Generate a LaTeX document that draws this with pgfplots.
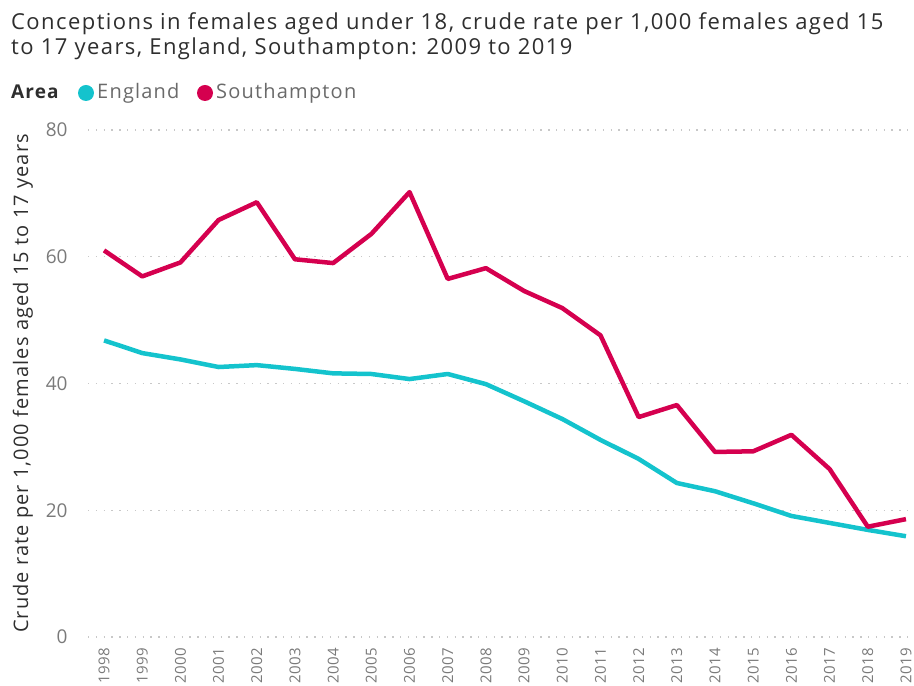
\documentclass[border=0pt]{standalone}
\usepackage{fontspec}
\setmainfont{Open Sans}
\usepackage{pgfplots}
\pgfplotsset{compat=1.18}
\definecolor{eng}{HTML}{14C3CD}
\definecolor{sot}{HTML}{D5004F}
\definecolor{titlec}{HTML}{2E2E2E}
\definecolor{legc}{HTML}{6A6A6A}
\definecolor{tickc}{HTML}{7A7A7A}
\definecolor{gridc}{HTML}{C8C8C8}
\begin{document}
\begin{tikzpicture}
\path[use as bounding box] (0,0) rectangle (914bp,686bp);
\begin{axis}[
  at={(88bp,49bp)}, anchor=south west,
  scale only axis, width=825.6bp, height=507bp,
  xmin=-0.42, xmax=21.2, ymin=0, ymax=80,
  axis line style={draw=none},
  ytick={0,20,40,60,80},
  xtick={0,...,21},
  xticklabels={1998,1999,2000,2001,2002,2003,2004,2005,2006,2007,2008,2009,2010,2011,2012,2013,2014,2015,2016,2017,2018,2019},
  x tick label style={rotate=90, anchor=east, font=\fontsize{15bp}{16bp}\selectfont\addfontfeature{LetterSpace=3}, text=tickc},
  xticklabel shift=7bp,
  y tick label style={font=\fontsize{19bp}{20bp}\selectfont, text=tickc, xshift=-17bp},
  /pgf/number format/assume math mode=true,
  major tick length=0pt,
  ymajorgrids, grid style={draw=gridc, line width=1.3bp, dash pattern=on 1.3bp off 6.5bp},
  ylabel={Crude rate per 1,000 females aged 15 to 17 years},
  every axis y label/.style={at={(ticklabel cs:0.5)}, rotate=90, anchor=south, yshift=6bp,
    font=\fontsize{20bp}{21bp}\selectfont\addfontfeature{LetterSpace=5.5}, text=titlec},
  clip=false,
]
\addplot[color=eng, line width=4.5bp, line join=round] coordinates {
(0,46.8)(1,44.8)(2,43.8)(3,42.6)(4,42.9)(5,42.3)(6,41.6)(7,41.5)(8,40.7)(9,41.5)(10,39.9)(11,37.2)(12,34.4)(13,31.1)(14,28.1)(15,24.3)(16,23.0)(17,21.1)(18,19.1)(19,18.0)(20,16.9)(21,15.9)};
\addplot[color=sot, line width=4.5bp, line join=round] coordinates {
(0,61.0)(1,56.9)(2,59.1)(3,65.8)(4,68.6)(5,59.6)(6,59.0)(7,63.6)(8,70.2)(9,56.5)(10,58.2)(11,54.6)(12,51.9)(13,47.6)(14,34.7)(15,36.6)(16,29.2)(17,29.3)(18,31.9)(19,26.5)(20,17.4)(21,18.6)};
\end{axis}
\node[anchor=base west, inner sep=0, text=titlec, font=\fontsize{22bp}{26bp}\selectfont\addfontfeature{LetterSpace=6.5}] at (11bp,656bp) {Conceptions in females aged under 18, crude rate per 1,000 females aged 15};
\node[anchor=base west, inner sep=0, text=titlec, font=\fontsize{22bp}{26bp}\selectfont\addfontfeature{LetterSpace=6.5}] at (11bp,631bp) {to 17 years, England, Southampton: 2009 to 2019};
\node[anchor=base west, inner sep=0, text=titlec, font=\bfseries\fontsize{19bp}{20bp}\selectfont\addfontfeature{LetterSpace=6}] at (11bp,587bp) {Area};
\fill[eng] (86bp,593bp) circle (8bp);
\node[anchor=base west, inner sep=0, text=legc, font=\fontsize{20bp}{21bp}\selectfont\addfontfeature{LetterSpace=6}] at (97bp,587bp) {England};
\fill[sot] (205bp,593bp) circle (8bp);
\node[anchor=base west, inner sep=0, text=legc, font=\fontsize{20bp}{21bp}\selectfont\addfontfeature{LetterSpace=6}] at (216bp,587bp) {Southampton};
\end{tikzpicture}
\end{document}
